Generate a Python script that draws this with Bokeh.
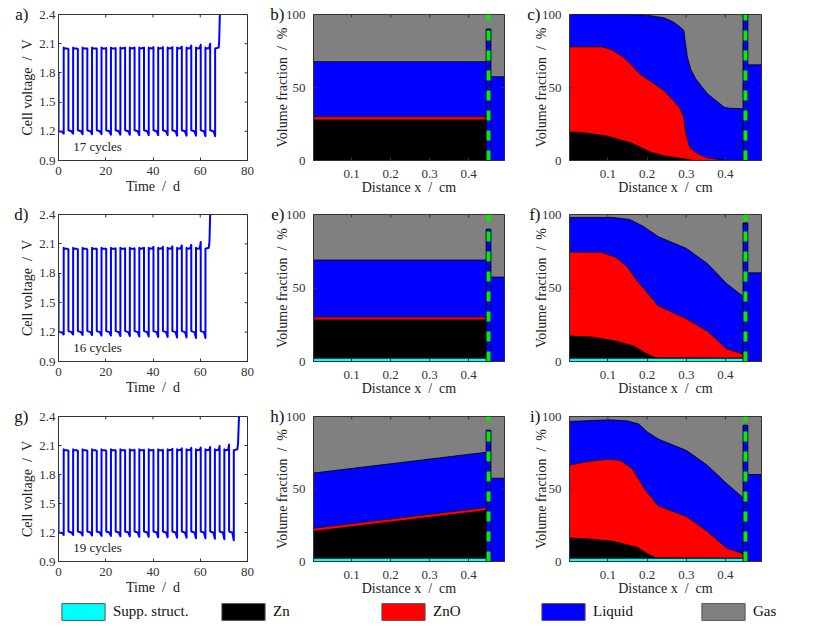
from bokeh.plotting import figure
from bokeh.layouts import column, row
from bokeh.models import Range1d, FixedTicker, Legend, LegendItem, LinearAxis
from bokeh.core.properties import value
from bokeh.embed import file_html
from bokeh.resources import INLINE

SERIF = "Liberation Serif"
C_CYAN, C_BLACK, C_RED, C_BLUE, C_GRAY, C_GREEN = "#00ffff", "#000000", "#ff0000", "#0000ff", "#808080", "#00ee00"
AX = "#333333"
SP = " \u00a0"

# ---------- cell voltage data ----------
a_rise = [2.2, 6.2, 10.2, 14.2, 18.2, 22.2, 26.2, 30.2, 34.2, 38.2, 42.2, 46.2, 50.2, 54.2, 58.2, 62.2]
a_fall = [4.2, 8.2, 12.2, 16.2, 20.2, 24.2, 28.2, 32.2, 36.2, 40.2, 44.2, 48.2, 52.2, 56.2, 60.2, 64.2]
a_top = [2.045, 2.045, 2.05, 2.05, 2.055, 2.055, 2.06, 2.06, 2.06, 2.065, 2.065, 2.065, 2.07, 2.08, 2.09, 2.10]
a_low = [1.175, 1.175, 1.17, 1.17, 1.17, 1.165, 1.165, 1.165, 1.16, 1.16, 1.16, 1.16, 1.155, 1.155, 1.155, 1.15]
a_end = ([66.3, 66.3, 67.8, 68.0, 68.3], [1.15, 2.05, 2.06, 2.12, 2.40])

d_rise = [2.2, 6.2, 10.2, 14.2, 18.2, 22.2, 26.2, 30.2, 34.2, 38.2, 42.2, 46.2, 50.2, 54.2, 58.2]
d_fall = [4.2, 8.2, 12.2, 16.2, 20.2, 24.2, 28.2, 32.2, 36.2, 40.2, 44.2, 48.2, 52.2, 56.2, 60.2]
d_top = [2.045, 2.045, 2.045, 2.05, 2.05, 2.055, 2.055, 2.055, 2.06, 2.07, 2.07, 2.075, 2.085, 2.09, 2.12]
d_low = [1.175, 1.175, 1.17, 1.17, 1.165, 1.165, 1.16, 1.16, 1.155, 1.155, 1.15, 1.15, 1.145, 1.145, 1.14]
d_end = ([62.2, 62.2, 63.6, 63.9, 64.2], [1.14, 2.05, 2.06, 2.12, 2.40])

g_rise = [2.2, 6.2, 10.2, 14.2, 18.2, 22.2, 26.2, 30.2, 34.2, 38.2, 42.2, 46.2, 50.2, 54.2, 58.2, 62.2, 66.2, 70.2]
g_fall = [4.2, 8.2, 12.2, 16.2, 20.2, 24.2, 28.2, 32.2, 36.2, 40.2, 44.2, 48.2, 52.2, 56.2, 60.2, 64.2, 68.2, 72.2]
g_top = [2.045, 2.045, 2.045, 2.045, 2.045, 2.05, 2.05, 2.055, 2.055, 2.055, 2.055, 2.065, 2.07, 2.075, 2.08, 2.085, 2.095, 2.11]
g_low = [1.175, 1.175, 1.17, 1.17, 1.165, 1.165, 1.16, 1.16, 1.155, 1.155, 1.15, 1.15, 1.145, 1.145, 1.14, 1.14, 1.135, 1.13]
g_end = ([74.2, 74.2, 75.7, 76.0, 76.4], [1.12, 2.05, 2.06, 2.12, 2.40])

volt_xticks = [0, 20, 40, 60, 80]
volt_yticks = [0.9, 1.2, 1.5, 1.8, 2.1, 2.4]
frac_xticks = [0.1, 0.2, 0.3, 0.4]
frac_yticks = [0, 50, 100]

# ---------- volume fraction data: [x], [upper boundary of each layer] ----------
b_x = [0.002, 0.45]
b_zn = [27.8, 27.8]
b_zno = [30.0, 30.0]
b_liq = [67.7, 67.7]
b_sep, b_right = 90, 57.4

c_zn_x = [0.002, 0.038, 0.098, 0.158, 0.183, 0.209, 0.243, 0.303, 0.32, 0.45]
c_zn = [19.6, 19.0, 16.7, 12.1, 9.1, 5.7, 3.2, 0.7, 0.0, 0.0]
c_zno_x = [0.002, 0.085, 0.11, 0.14, 0.162, 0.183, 0.243, 0.281, 0.293, 0.299, 0.309, 0.329, 0.354, 0.397, 0.45]
c_zno = [77.9, 77.9, 75.8, 70.8, 65.0, 59.0, 48.0, 37.0, 30.8, 18.3, 9.0, 4.6, 1.8, 0.2, 0.0]
c_liq_x = [0.002, 0.15, 0.2, 0.225, 0.243, 0.258, 0.269, 0.282, 0.294, 0.298, 0.303, 0.311, 0.324, 0.354, 0.397, 0.41, 0.45]
c_liq = [100.0, 100.0, 99.5, 98.5, 97.7, 96.0, 94.5, 92.0, 89.0, 80.0, 70.8, 62.8, 56.0, 45.7, 36.5, 35.8, 35.4]
c_sep, c_right = 100, 65.5

e_x = [0.002, 0.45]
e_cyan = [2.2, 2.2]
e_zn = [28.3, 28.3]
e_zno = [30.3, 30.3]
e_liq = [69.0, 69.0]
e_sep, e_right = 90, 57.4

f_zn_x = [0.002, 0.053, 0.113, 0.166, 0.196, 0.222, 0.45]
f_zn = [17.3, 16.8, 14.3, 10.5, 5.7, 2.5, 2.2]
f_zno_x = [0.002, 0.083, 0.12, 0.15, 0.177, 0.194, 0.228, 0.301, 0.354, 0.403, 0.444, 0.45]
f_zno = [74.5, 74.3, 71.0, 64.3, 54.0, 49.0, 38.0, 29.0, 20.7, 8.6, 5.2, 4.8]
f_liq_x = [0.002, 0.113, 0.156, 0.19, 0.228, 0.301, 0.354, 0.403, 0.444, 0.45]
f_liq = [98.0, 98.0, 96.6, 92.0, 85.0, 76.8, 66.6, 53.0, 44.5, 43.5]
f_cyan = [2.2, 2.2]
f_sep, f_right = 94.3, 60.3

h_x = [0.002, 0.45]
h_cyan = [2.2, 2.2]
h_zn = [20.8, 35.3]
h_zno = [23.0, 37.4]
h_liq = [61.0, 75.5]
h_sep, h_right = 90.5, 57.4

i_zn_x = [0.002, 0.053, 0.113, 0.175, 0.2, 0.222, 0.45]
i_zn = [16.2, 15.5, 13.9, 9.8, 5.5, 2.5, 2.2]
i_zno_x = [0.002, 0.053, 0.102, 0.132, 0.162, 0.183, 0.196, 0.228, 0.301, 0.354, 0.403, 0.444, 0.45]
i_zno = [66.5, 69.2, 70.6, 69.7, 64.0, 54.9, 49.2, 38.5, 31.0, 20.7, 9.3, 5.5, 5.0]
i_liq_x = [0.002, 0.102, 0.149, 0.179, 0.2, 0.228, 0.301, 0.354, 0.403, 0.444, 0.45]
i_liq = [96.6, 97.7, 97.0, 94.8, 89.5, 84.5, 76.5, 66.3, 53.8, 44.2, 43.5]
i_cyan = [2.2, 2.2]
i_sep, i_right = 94, 60

legend_names = ["Supp. struct.", "Zn", "ZnO", "Liquid", "Gas"]
legend_colors = [C_CYAN, C_BLACK, C_RED, C_BLUE, C_GRAY]
legend_px = [56, 216, 376, 536, 696]

SEP_L, SEP_R, SEP_X = 0.445, 0.457, 0.451
FRAC_RANGE = (0.002, 0.492)

ROWS = [dict(h=204, top=14, bottom=44), dict(h=202, top=10, bottom=45), dict(h=192, top=10, bottom=36)]
COLS = [dict(w=257, left=58, right=10, ylab=1, tag=-11),
        dict(w=258, left=56, right=11, ylab=-7, tag=-13),
        dict(w=275, left=54, right=29, ylab=-10, tag=-10)]


def base(col, r, xr, yr, xticks, yticks, xlabel, ylabel, tag, tick_sx, tick_sy, label_sx):
    c, rr = COLS[col], ROWS[r]
    p = figure(width=c["w"], height=rr["h"], output_backend="svg", toolbar_location=None,
               x_range=Range1d(*xr), y_range=Range1d(*yr),
               min_border_left=c["left"], min_border_right=c["right"],
               min_border_top=rr["top"], min_border_bottom=rr["bottom"],
               border_fill_color=None, background_fill_color="#ffffff",
               outline_line_color=AX, outline_line_width=1)
    p.grid.visible = False
    for ax, ticks, label, sx, lsx in ((p.xaxis[0], xticks, xlabel, tick_sx, label_sx),
                                      (p.yaxis[0], yticks, ylabel, tick_sy, c["ylab"])):
        ax.ticker = FixedTicker(ticks=ticks)
        ax.axis_label = label
        ax.axis_label_text_font = SERIF
        ax.axis_label_text_font_size = "14px"
        ax.axis_label_text_font_style = "normal"
        ax.axis_label_text_color = "#222222"
        ax.axis_label_standoff = lsx
        ax.major_label_text_font = SERIF
        ax.major_label_text_font_size = "13px"
        ax.major_label_text_color = AX
        ax.major_label_standoff = sx
        ax.major_tick_in, ax.major_tick_out = 3, 0
        ax.minor_tick_line_color = None
        ax.axis_line_color = AX
        ax.major_tick_line_color = AX
    # panel letter: a second left axis with a single labelled tick at the top of the box
    p.add_layout(LinearAxis(ticker=FixedTicker(ticks=[yr[1]]), major_label_overrides={yr[1]: tag},
                            axis_line_color=None, major_tick_line_color=None, minor_tick_line_color=None,
                            major_tick_in=0, major_tick_out=0, major_label_standoff=c["tag"],
                            major_label_text_font=SERIF, major_label_text_font_size="17px",
                            major_label_text_color="#111111"), "left")
    return p


def mirror_ticks(p, xr, yr, xticks, yticks):
    """Inward ticks on the top and right edges of the box (MATLAB 'box on')."""
    dy = (yr[1] - yr[0]) * 3 / 146
    dx = (xr[1] - xr[0]) * 3 / 190
    p.segment(xticks, [yr[1]] * len(xticks), xticks, [yr[1] - dy] * len(xticks), line_color=AX, line_width=1)
    p.segment([xr[1]] * len(yticks), yticks, [xr[1] - dx] * len(yticks), yticks, line_color=AX, line_width=1)


def volt_panel(r, tag, rise, fall, top, low, end, cycles):
    xr, yr = (0, 80), (0.9, 2.4)
    p = base(0, r, xr, yr, volt_xticks, volt_yticks, f"Time{SP}/{SP}d", f"Cell voltage{SP}/{SP}V", tag,
             6, 3, 1)
    xs, ys = [0, 0], [1.8, 1.2]
    for a, b, t, l in zip(rise, fall, top, low):
        xs += [a - 0.6, a, a, a + 0.4, b - 0.4, b, b, b + 1.3]
        ys += [1.195, l, 2.06, 2.05, 2.05 if t < 2.06 else 2.055, t, 1.21, 1.2]
    xs += [end[0][0] - 0.6] + end[0]
    ys += [1.195] + end[1]
    p.line(xs, ys, line_color=C_BLUE, line_width=2, line_join="round")
    p.text([6.2], [1.04], text=[cycles], text_font=value(SERIF), text_font_size="13px",
           text_baseline="middle", text_color="#222222")
    mirror_ticks(p, xr, yr, volt_xticks, volt_yticks)
    return p


def frac_panel(col, r, tag, layers, sep, right):
    p = base(col, r, FRAC_RANGE, (0, 100), frac_xticks, frac_yticks, f"Distance x{SP}/{SP}cm",
             f"Volume fraction{SP}/{SP}%", tag, 9, 8, -1)
    p.background_fill_color = C_GRAY
    for xv, top, color in layers:
        p.varea(xv, [0] * len(xv), top, fill_color=color)
        p.line(xv, top, line_color="#000000", line_width=0.8)
    p.quad(left=[SEP_L], right=[SEP_R], bottom=[0], top=[sep], fill_color=C_BLUE, line_color="#000000", line_width=1)
    p.quad(left=[SEP_R], right=[FRAC_RANGE[1]], bottom=[0], top=[right], fill_color=C_BLUE, line_color=None)
    p.line([SEP_R, FRAC_RANGE[1]], [right, right], line_color="#000000", line_width=0.8)
    p.line([SEP_X, SEP_X], [0, 100], line_color=C_GREEN, line_width=4, line_dash="10 10")
    mirror_ticks(p, FRAC_RANGE, (0, 100), frac_xticks, frac_yticks)
    return p


pa = volt_panel(0, "a)", a_rise, a_fall, a_top, a_low, a_end, "17 cycles")
pb = frac_panel(1, 0, "b)", [(b_x, b_liq, C_BLUE), (b_x, b_zno, C_RED), (b_x, b_zn, C_BLACK)], b_sep, b_right)
pc = frac_panel(2, 0, "c)", [(c_liq_x, c_liq, C_BLUE), (c_zno_x, c_zno, C_RED), (c_zn_x, c_zn, C_BLACK)], c_sep, c_right)
pd = volt_panel(1, "d)", d_rise, d_fall, d_top, d_low, d_end, "16 cycles")
pe = frac_panel(1, 1, "e)", [(e_x, e_liq, C_BLUE), (e_x, e_zno, C_RED), (e_x, e_zn, C_BLACK), (e_x, e_cyan, C_CYAN)], e_sep, e_right)
pf = frac_panel(2, 1, "f)", [(f_liq_x, f_liq, C_BLUE), (f_zno_x, f_zno, C_RED), (f_zn_x, f_zn, C_BLACK), (b_x, f_cyan, C_CYAN)], f_sep, f_right)
pg = volt_panel(2, "g)", g_rise, g_fall, g_top, g_low, g_end, "19 cycles")
ph = frac_panel(1, 2, "h)", [(h_x, h_liq, C_BLUE), (h_x, h_zno, C_RED), (h_x, h_zn, C_BLACK), (h_x, h_cyan, C_CYAN)], h_sep, h_right)
pi = frac_panel(2, 2, "i)", [(i_liq_x, i_liq, C_BLUE), (i_zno_x, i_zno, C_RED), (i_zn_x, i_zn, C_BLACK), (b_x, i_cyan, C_CYAN)], i_sep, i_right)

strip = figure(width=790, height=25, output_backend="svg", toolbar_location=None,
               x_range=Range1d(0, 1), y_range=Range1d(0, 1),
               x_axis_location=None, y_axis_location=None,
               min_border=0, outline_line_color=None, border_fill_color=None, background_fill_color=None)
strip.grid.visible = False
for name, color, px in zip(legend_names, legend_colors, legend_px):
    # one swatch lying outside the strip's range, so only the legend shows it
    swatch = strip.quad(left=[2], right=[3], top=[3], bottom=[2], fill_color=color, line_color="#555555", line_width=1)
    strip.add_layout(Legend(items=[LegendItem(label=value(name), renderers=[swatch])], location=(px, 1),
                            margin=0, padding=0, spacing=0, glyph_width=54, glyph_height=21, label_height=21,
                            label_standoff=3, label_text_font=SERIF, label_text_font_size="15px",
                            label_text_color="#111111", border_line_color=None, background_fill_color=None,
                            background_fill_alpha=0))

layout = column(row(pa, pb, pc, spacing=0), row(pd, pe, pf, spacing=0), row(pg, ph, pi, spacing=0), strip, spacing=0)
open("out.html", "w").write(file_html(layout, INLINE))
